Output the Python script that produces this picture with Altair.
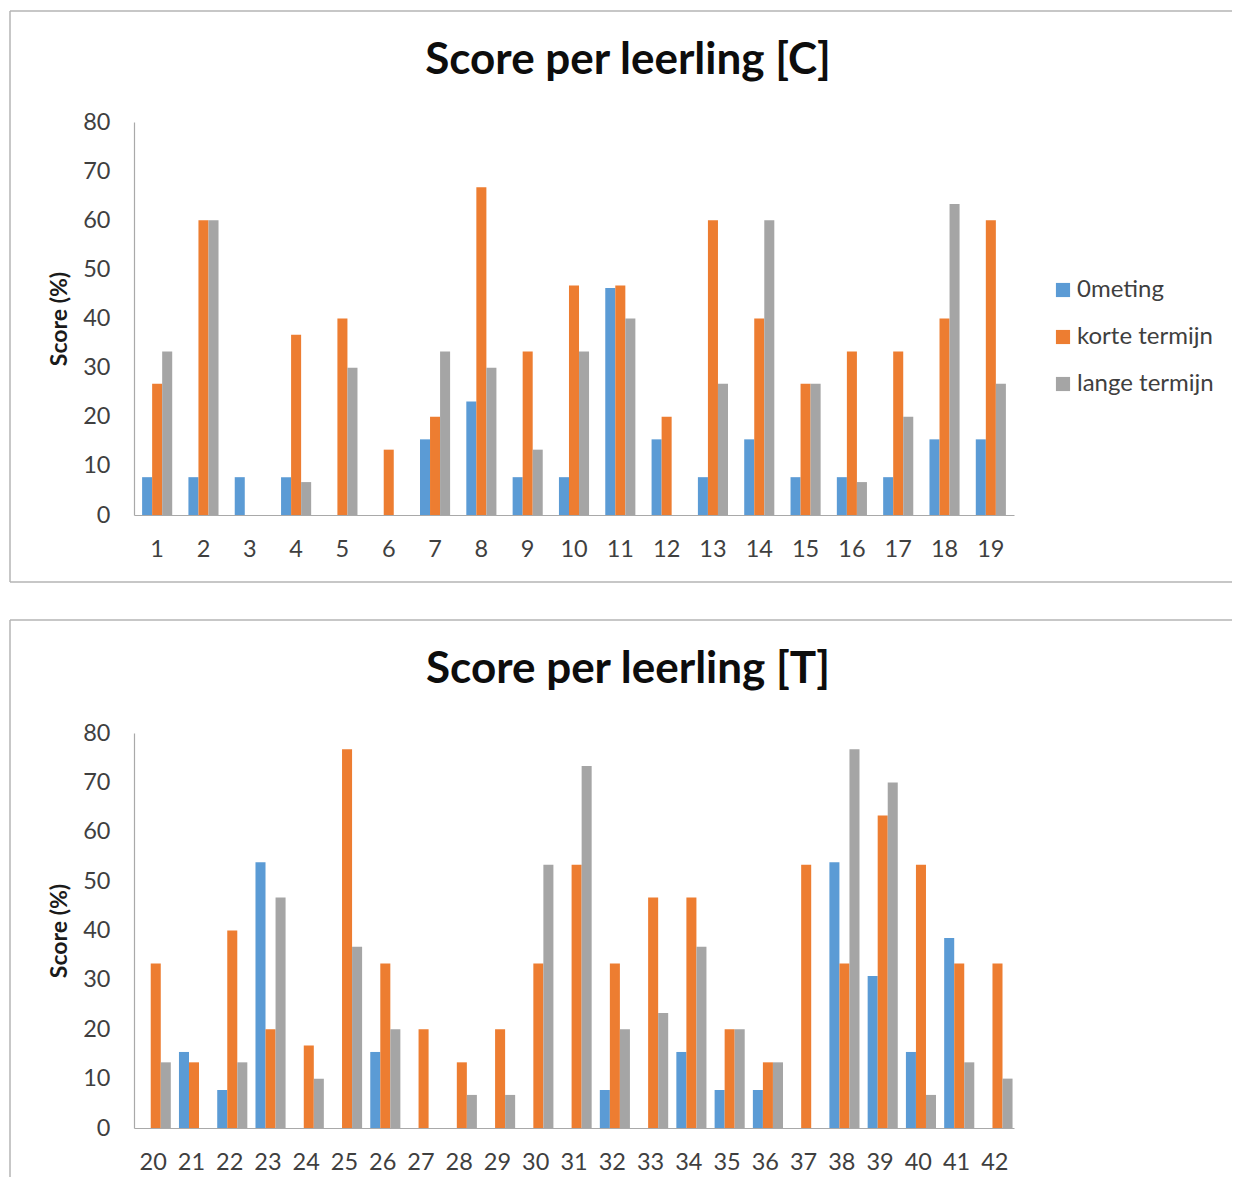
import altair as alt
import pandas as pd

# Series names and Office-style colours
series = ["0meting", "korte termijn", "lange termijn"]
colors = ["#5B9BD5", "#ED7D31", "#A5A5A5"]

# Group C: pupils 1-19
leerling_c = list(range(1, 20))
nulmeting_c = [7.7, 7.7, 7.7, 7.7, 0, 0, 15.4, 23.1, 7.7, 7.7, 46.2, 15.4, 7.7, 15.4, 7.7, 7.7, 7.7, 15.4, 15.4]
kort_c = [26.7, 60, 0, 36.7, 40, 13.3, 20, 66.7, 33.3, 46.7, 46.7, 20, 60, 40, 26.7, 33.3, 33.3, 40, 60]
lang_c = [33.3, 60, 0, 6.7, 30, 0, 33.3, 30, 13.3, 33.3, 40, 0, 26.7, 60, 26.7, 6.7, 20, 63.3, 26.7]

# Group T: pupils 20-42
leerling_t = list(range(20, 43))
nulmeting_t = [0, 15.4, 7.7, 53.8, 0, 0, 15.4, 0, 0, 0, 0, 0, 7.7, 0, 15.4, 7.7, 7.7, 0, 53.8, 30.8, 15.4, 38.5, 0]
kort_t = [33.3, 13.3, 40, 20, 16.7, 76.7, 33.3, 20, 13.3, 20, 33.3, 53.3, 33.3, 46.7, 46.7, 20, 13.3, 53.3, 33.3, 63.3, 53.3, 33.3, 33.3]
lang_t = [13.3, 0, 13.3, 46.7, 10, 36.7, 20, 0, 6.7, 6.7, 53.3, 73.3, 20, 23.3, 36.7, 20, 13.3, 0, 76.7, 70, 6.7, 13.3, 10]

FONT = "Lato"
TEXT = "#3f3f3f"
LINE = "#a9a9a9"
FRAME = "#b4b4b4"


def long_table(leerlingen, a, b, c):
    rows = []
    for name, vals in zip(series, (a, b, c)):
        for l, v in zip(leerlingen, vals):
            rows.append({"leerling": l, "meting": name, "score": v})
    return pd.DataFrame(rows)


def frame_line(x1, x2, y1, y2):
    return alt.Chart(alt.Data(values=[{}])).mark_rule(
        color=FRAME, strokeWidth=1.5
    ).encode(x=alt.value(x1), x2=alt.value(x2), y=alt.value(y1), y2=alt.value(y2))


def panel(title, leerlingen, a, b, c, height, top, bottom, closed):
    df = long_table(leerlingen, a, b, c)
    bars = alt.Chart(df).mark_bar().encode(
        x=alt.X(
            "leerling:O",
            title=None,
            scale=alt.Scale(paddingInner=0.35, paddingOuter=0.175),
            axis=alt.Axis(
                labelAngle=0, ticks=False, labelPadding=22, labelFontSize=23.5,
                labelFont=FONT, labelColor=TEXT, domainColor=LINE, domainWidth=1.2,
            ),
        ),
        xOffset=alt.XOffset("meting:N", sort=series),
        y=alt.Y(
            "score:Q",
            title="Score (%)",
            scale=alt.Scale(domain=[0, 80], nice=False),
            axis=alt.Axis(
                values=list(range(0, 81, 10)), grid=False, ticks=False,
                labelPadding=24, labelFontSize=23.5, labelFont=FONT, labelColor=TEXT,
                domainColor=LINE, domainWidth=1.2,
                titleFont=FONT, titleFontSize=23, titleFontWeight="bold",
                titleColor="#1a1a1a", titlePadding=11,
            ),
        ),
        color=alt.Color(
            "meting:N",
            sort=series,
            scale=alt.Scale(domain=series, range=colors),
            legend=alt.Legend(
                title=None, orient="none", legendX=917, legendY=156,
                symbolType="square", symbolSize=200, symbolStrokeWidth=0,
                symbolOpacity=1, labelFont=FONT, labelFontSize=24,
                labelColor=TEXT, labelOffset=2, rowPadding=23,
            ),
        ),
    )
    lines = [
        frame_line(-124, -124, top, bottom),
        frame_line(-124, 1098, top, top),
    ]
    if closed:
        lines.append(frame_line(-124, 1098, bottom, bottom))
    return alt.layer(bars, *lines).properties(
        width=880,
        height=height,
        title=alt.Title(
            title, font=FONT, fontSize=44, fontWeight="bold", color="#0d0d0d",
            anchor="middle", frame="group", baseline="alphabetic",
            offset=-108, dx=54,
        ),
    )


top_chart = panel("Score per leerling [C]", leerling_c, nulmeting_c, kort_c, lang_c,
                  393, -111, 460, True)
bottom_chart = panel("Score per leerling [T]", leerling_t, nulmeting_t, kort_t, lang_t,
                     395, -113, 444, False)

chart = alt.vconcat(top_chart, bottom_chart, spacing=36).properties(
    padding={"left": 9, "top": 10, "right": 0, "bottom": 0}
).configure_view(stroke=None)

chart.save("out.html", embed_options={"renderer": "svg", "actions": False})
